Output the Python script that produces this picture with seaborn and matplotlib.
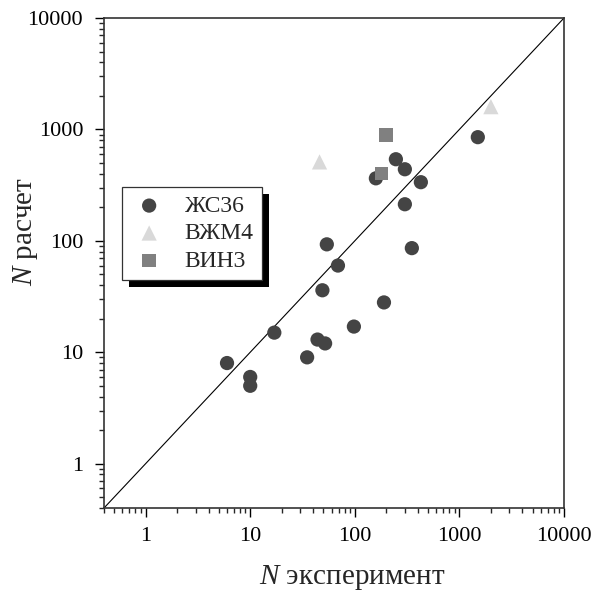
import matplotlib
matplotlib.use("Agg")
import matplotlib.pyplot as plt
import seaborn as sns
import pandas as pd
from matplotlib.patches import Rectangle
from matplotlib.ticker import LogLocator, NullFormatter, FixedLocator, FixedFormatter

sns.set_theme(style="ticks")
plt.rcParams['font.family'] = ['Liberation Serif', 'DejaVu Serif']
plt.rcParams['mathtext.fontset'] = 'custom'
plt.rcParams['mathtext.it'] = 'Liberation Serif:italic'
plt.rcParams['mathtext.rm'] = 'Liberation Serif'

# data
zs36_x = [6, 10, 10, 17, 35, 44, 52, 98, 190, 49, 69, 54, 351, 301, 428, 159, 247, 301, 1500]
zs36_y = [8, 6, 5, 15, 9, 13, 12, 17, 28, 36, 60, 93, 86, 213, 336, 364, 540, 439, 852]
vzm4_x = [46, 2000]
vzm4_y = [511, 1600]
vin3_x = [198, 180]
vin3_y = [888, 402]
series_names = ["ЖС36", "ВЖМ4", "ВИН3"]
tick_values = [1, 10, 100, 1000, 10000]
tick_labels = ["1", "10", "100", "1000", "10000"]
lim = [0.4, 10000]

fig = plt.figure(figsize=(6.04, 5.91), dpi=100)
ax = fig.add_axes([104/604, 1-508/591, 460/604, 490/591])

df1 = pd.DataFrame({"x": zs36_x, "y": zs36_y})
df2 = pd.DataFrame({"x": vzm4_x, "y": vzm4_y})
df3 = pd.DataFrame({"x": vin3_x, "y": vin3_y})

sns.scatterplot(data=df1, x="x", y="y", ax=ax, marker="o", s=105, color="#444444",
                edgecolor="none", label=series_names[0], zorder=3)
sns.scatterplot(data=df2, x="x", y="y", ax=ax, marker="^", s=120, color="#d9d9d9",
                edgecolor="none", label=series_names[1], zorder=3)
sns.scatterplot(data=df3, x="x", y="y", ax=ax, marker="s", s=95, color="#808080",
                edgecolor="none", label=series_names[2], zorder=3)

ax.plot(lim, lim, color="black", lw=0.8, zorder=2)

ax.set_xscale("log")
ax.set_yscale("log")
ax.set_xlim(lim)
ax.set_ylim(lim)

for axis in (ax.xaxis, ax.yaxis):
    axis.set_major_locator(FixedLocator(tick_values))
    axis.set_major_formatter(FixedFormatter(tick_labels))
    axis.set_minor_locator(LogLocator(base=10, subs=range(2, 10), numticks=20))
    axis.set_minor_formatter(NullFormatter())

ax.tick_params(which="major", length=6.5, width=1.0, labelsize=16, colors="black")
ax.tick_params(which="minor", length=3.3, width=1.0)
ax.tick_params(axis="x", which="major", pad=7)
ax.tick_params(axis="y", which="major", pad=8.5)
for sp in ax.spines.values():
    sp.set_linewidth(1.2)
    sp.set_color("#333333")
    sp.set_visible(True)

ax.set_xlabel("$N$ эксперимент", fontsize=21)
ax.set_ylabel("$N$ расчет", fontsize=21)
ax.xaxis.set_label_coords(0.540, -0.112)
ax.yaxis.set_label_coords(-0.139, 0.565)

leg = ax.legend(loc="upper left", bbox_to_anchor=(122/604, 1-187/591),
                bbox_transform=fig.transFigure, fontsize=17, frameon=True,
                fancybox=False, shadow=False, borderpad=0.35, labelspacing=0.25,
                handletextpad=0.7, borderaxespad=0, handlelength=1.6)
leg.get_frame().set_edgecolor("#333333")
leg.get_frame().set_linewidth(0.9)
leg.get_frame().set_alpha(1)

fig.canvas.draw()
bb = leg.get_window_extent().transformed(fig.transFigure.inverted())
off_x = 7/604
off_y = 7/591
shadow = Rectangle((bb.x0 + off_x, bb.y0 - off_y), bb.width, bb.height,
                   transform=fig.transFigure, facecolor="black", edgecolor="none",
                   zorder=4.5, clip_on=False)
ax.add_patch(shadow)

fig.savefig("out.png", dpi=100)
